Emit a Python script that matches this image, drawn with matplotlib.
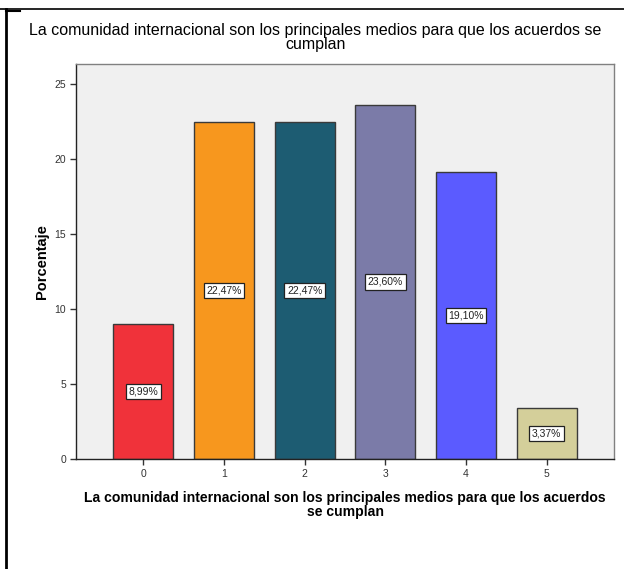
import matplotlib.pyplot as plt
from matplotlib.lines import Line2D

plt.rcParams['font.family'] = ['Liberation Sans', 'DejaVu Sans']

# data
categories = ["0", "1", "2", "3", "4", "5"]
percentages = [8.99, 22.47, 22.47, 23.60, 19.10, 3.37]
colors = ["#F0323A", "#F7971E", "#1D5C72", "#7B7BA8", "#5B5BFF", "#D4CF9A"]
title = "La comunidad internacional son los principales medios para que los acuerdos se\ncumplan"
xlabel = "La comunidad internacional son los principales medios para que los acuerdos\nse cumplan"
ylabel = "Porcentaje"

fig = plt.figure(figsize=(6.24, 5.69), dpi=100)
ax = fig.add_axes([0.1218, 0.1933, 0.8622, 0.6942])
ax.set_facecolor("#F0F0F0")

x = list(range(len(categories)))
bars = ax.bar(x, percentages, width=0.745, color=colors,
              edgecolor="#3A3A3A", linewidth=1.0, zorder=2)

# labels in the middle of each bar
for b, v in zip(bars, percentages):
    txt = f"{v:.2f}".replace(".", ",") + "%"
    ax.text(b.get_x() + b.get_width() / 2, v / 2, txt,
            ha="center", va="center", fontsize=7.5, color="#222222",
            bbox=dict(boxstyle="square,pad=0.25", fc="white", ec="#222222", lw=0.9),
            zorder=3)

ax.set_xlim(-0.834, 5.834)
ax.set_ylim(0, 26.33)
ax.set_yticks([0, 5, 10, 15, 20, 25])
ax.set_xticks(x)
ax.set_xticklabels(categories)
ax.tick_params(axis="both", direction="out", length=4, width=1,
               labelsize=7.5, labelcolor="#333333", color="#333333", pad=3)

for s in ["top", "right"]:
    ax.spines[s].set_color("#808080")
for s in ["left", "bottom"]:
    ax.spines[s].set_color("#222222")
for s in ax.spines.values():
    s.set_linewidth(1.0)

fig.text(0.505, 0.96, title, ha="center", va="top", fontsize=11.5,
         linespacing=0.92, color="black")
ax.set_xlabel(xlabel, fontsize=10.1, fontweight="bold", linespacing=1.0, labelpad=9)
ax.set_ylabel(ylabel, fontsize=10.5, fontweight="bold", labelpad=4)

# outer frame lines like the source export
fig.add_artist(Line2D([0, 1], [1 - 9 / 569, 1 - 9 / 569], color="black", lw=1.2,
                      transform=fig.transFigure))
fig.add_artist(Line2D([6 / 624, 6 / 624], [0, 1 - 9 / 569], color="black", lw=2,
                      transform=fig.transFigure))
fig.add_artist(Line2D([6 / 624, 20 / 624], [1 - 11 / 569, 1 - 11 / 569], color="black",
                      lw=1.5, transform=fig.transFigure))

fig.savefig("out.png", dpi=100)
